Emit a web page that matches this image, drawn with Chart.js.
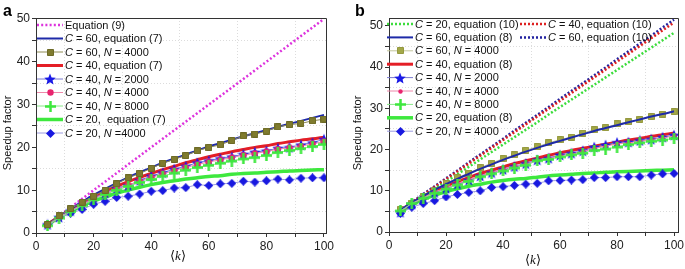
<!DOCTYPE html>
<html><head><meta charset="utf-8">
<script src="https://cdn.jsdelivr.net/npm/chart.js@4.4.1/dist/chart.umd.min.js"></script>
<style>
html,body{margin:0;padding:0;background:#fff;width:685px;height:269px;overflow:hidden;font-family:'Liberation Sans',Arial,sans-serif}
#wa{position:absolute;left:0;top:0;width:340px;height:269px}
#wb{position:absolute;left:340px;top:0;width:345px;height:269px}
.pl{position:absolute;font-weight:bold;font-size:16px;line-height:16px;top:3px;color:#000}
</style></head><body>
<div id="wa"><canvas id="ca" width="340" height="269"></canvas></div>
<div id="wb"><canvas id="cb" width="345" height="269"></canvas></div>
<div class="pl" style="left:3px">a</div>
<div class="pl" style="left:355px">b</div>
<script>
// ---------- data ----------
const K = [4,8,12,16,20,24,28,32,36,40,44,48,52,56,60,64,68,72,76,80,84,88,92,96,100];
const X_TICK_LABELS = ['0','20','40','60','80','100'];
const Y_TICK_LABELS = ['0','10','20','30','40','50'];

// panel a
const labelsA = ['Equation (9)','C = 60, equation (7)','C = 60, N = 4000','C = 40, equation (7)','C = 40, N = 2000','C = 40, N = 4000','C = 40, N = 8000','C = 20,  equation (7)','C = 20, N =4000'];
const eq9A      = [2,4,6,8,10,12,14,16,18,20,22,24,26,28,30,32,34,36,38,40,42,44,46,48,50];
const c60EqA    = [2.0,3.9,5.6,7.3,8.9,10.3,11.7,13.0,14.2,15.3,16.4,17.4,18.3,19.3,20.2,21.0,21.8,22.6,23.3,24.0,24.8,25.5,26.2,26.9,27.6];
const c60N4000A = [2.0,4.0,5.7,7.2,8.6,10.0,11.5,12.9,13.9,15.1,16.3,17.2,18.1,19.2,20.0,20.6,21.6,22.7,23.1,23.8,24.8,25.3,25.6,26.2,26.6];
const c40EqA    = [2.0,3.8,5.4,7.0,8.4,9.7,10.9,12.0,13.0,13.9,14.8,15.6,16.4,17.1,17.8,18.4,19.0,19.5,20.0,20.4,20.9,21.3,21.7,22.0,22.4];
const c40N2000A = [2.0,3.7,5.2,6.7,8.2,9.4,10.5,11.1,12.3,13.3,14.1,14.9,15.6,16.4,16.9,17.4,17.8,18.4,18.9,19.2,19.8,20.0,20.6,21.1,21.9];
const c40N4000A = [2.0,3.7,5.1,6.6,8.0,9.2,10.3,11.2,12.1,13.0,13.8,14.6,15.3,16.0,16.6,17.1,17.6,18.2,18.6,19.0,19.6,19.9,20.3,20.8,21.4];
const c40N8000A = [1.7,3.5,5.0,6.4,7.8,9.0,10.0,10.9,11.8,12.5,13.3,14.0,14.7,15.3,15.8,16.3,16.8,17.3,17.6,18.1,18.8,19.3,19.7,20.2,20.7];
const c20EqA    = [1.9,3.6,5.0,6.3,7.5,8.4,9.3,10.0,10.7,11.3,11.8,12.2,12.6,12.9,13.2,13.4,13.7,13.9,14.0,14.2,14.3,14.5,14.6,14.7,14.8];
const c20N4000A = [2.0,3.6,4.6,5.5,6.7,7.4,8.3,8.6,9.1,9.75,9.9,10.5,10.6,11.3,11.1,11.5,11.6,12.1,11.9,12.2,12.6,12.4,12.8,12.9,12.9];

// panel b
const labelsB = ['C = 20, equation (10)','C = 40, equation (10)','C = 60, equation (8)','C = 60, equation (10)','C = 60, N = 4000','C = 40, equation (8)','C = 40, N = 2000','C = 40, N = 4000','C = 40, N = 8000','C = 20, equation (8)','C = 20, N = 4000'];
const eq10C20B  = [5.0,6.8,8.6,10.4,12.2,14.0,15.8,17.6,19.4,21.2,23.0,24.8,26.6,28.5,30.3,32.1,33.9,35.7,37.5,39.3,41.1,42.9,44.7,46.5,48.3];
const eq10C40B  = [5.2,7.1,9.0,10.9,12.8,14.7,16.6,18.5,20.4,22.3,24.2,26.1,28.0,29.9,31.8,33.7,35.6,37.5,39.4,41.3,43.2,45.1,47.0,48.9,50.8];
const eq10C60B  = [5.3,7.2,9.2,11.1,13.0,14.9,16.9,18.8,20.7,22.6,24.6,26.5,28.4,30.3,32.3,34.2,36.1,38.0,39.9,41.9,43.8,45.7,47.6,49.6,51.5];
const c60EqB    = [5.3,7.1,8.7,10.2,11.6,12.9,14.1,15.3,16.4,17.5,18.5,19.5,20.4,21.3,22.1,22.9,23.7,24.5,25.2,25.9,26.6,27.3,28.0,28.6,29.3];
const c60N4000B = [5.5,7.0,8.6,10.0,11.8,13.2,14.3,15.6,16.7,17.8,18.7,19.8,20.7,21.6,22.4,23.0,24.0,24.8,25.3,26.2,26.7,27.3,28.0,28.6,29.2];
const c40EqB    = [5.2,7.0,8.5,9.9,11.1,12.2,13.2,14.2,15.0,15.8,16.6,17.3,17.9,18.6,19.2,19.8,20.3,20.8,21.3,21.8,22.3,22.7,23.2,23.6,24.0];
const c40N2000B = [4.8,6.8,8.2,9.6,10.6,11.6,12.6,13.6,14.4,15.2,15.9,16.6,17.5,17.9,18.7,19.1,19.7,20.6,21.1,21.7,21.8,22.2,22.5,23.0,23.5];
const c40N4000B = [5.0,6.9,8.3,9.7,10.7,11.7,12.7,13.6,14.4,15.2,15.9,16.5,17.3,17.8,18.5,18.9,19.5,20.3,20.8,21.4,21.6,22.0,22.4,22.8,23.3];
const c40N8000B = [5.1,6.9,8.2,9.4,10.4,11.4,12.3,13.4,14.1,14.8,15.5,16.2,17.3,17.6,18.2,18.7,19.1,19.8,20.1,20.6,21.2,21.6,22.0,22.3,22.7];
const c20EqB    = [5.0,6.6,7.9,8.9,9.8,10.5,11.1,11.6,12.1,12.5,12.8,13.0,13.3,13.6,13.8,14.0,14.2,14.3,14.5,14.6,14.7,14.8,14.9,15.0,15.1];
const c20N4000B = [4.5,6.0,6.9,7.6,8.5,9.1,9.6,10.0,10.8,11.0,11.3,11.6,11.8,12.4,12.5,12.6,12.7,13.2,13.2,13.4,13.4,13.4,13.8,14.1,14.2];

// ---------- helpers ----------
const FONT = "'Liberation Sans', Arial, Helvetica, sans-serif";
Chart.defaults.font.family = FONT;

function markerImg(type, d, fill, stroke, lw) {
  const c = document.createElement('canvas');
  c.width = d; c.height = d;
  const g = c.getContext('2d');
  const r = d / 2;
  g.fillStyle = fill; g.strokeStyle = stroke || fill; g.lineWidth = lw || 1;
  g.beginPath();
  if (type === 'square') { g.rect(0.5, 0.5, d - 1, d - 1); g.fill(); g.stroke(); }
  else if (type === 'circle') { g.arc(r, r, r - 0.3, 0, 2 * Math.PI); g.fill(); }
  else if (type === 'diamond') { g.moveTo(r, 0); g.lineTo(d, r); g.lineTo(r, d); g.lineTo(0, r); g.closePath(); g.fill(); }
  else if (type === 'star') {
    for (let i = 0; i < 10; i++) {
      const a = -Math.PI / 2 + i * Math.PI / 5;
      const rr = (i % 2) ? r * 0.45 : r;
      g.lineTo(r + rr * Math.cos(a), r + rr * Math.sin(a) + r * 0.1);
    }
    g.closePath(); g.fill();
  }
  else if (type === 'plus') { g.moveTo(r, 0); g.lineTo(r, d); g.moveTo(0, r); g.lineTo(d, r); g.stroke(); }
  return c;
}
const pts = arr => K.map((k, i) => ({x: k, y: arr[i]}));

function lineDS(label, arr, color, width, dash, order, tension) {
  return {label, data: pts(arr), borderColor: color, backgroundColor: color, borderWidth: width,
    borderDash: dash || [], pointRadius: 0, pointHoverRadius: 0, fill: false, order,
    cubicInterpolationMode: tension ? 'monotone' : 'default', tension: 0, borderCapStyle: 'butt'};
}
function markDS(label, arr, lineColor, img, order) {
  return {label, data: pts(arr), borderColor: lineColor, backgroundColor: lineColor, borderWidth: 1,
    pointStyle: img, pointRadius: 4, pointHoverRadius: 4, fill: false, order, tension: 0};
}

function richText(ctx, text, x, y, size) {
  const parts = text.split(/(\b[CN](?= ?=))/);
  let cx = x;
  parts.forEach(p => {
    if (!p) return;
    const it = /^[CN]$/.test(p);
    ctx.font = (it ? 'italic ' : '') + size + 'px ' + FONT;
    ctx.fillText(p, cx, y);
    cx += ctx.measureText(p).width;
  });
}

function decorPlugin(cfg) {
  return {
    id: 'decor',
    afterDraw(chart) {
      const ctx = chart.ctx, a = chart.chartArea;
      ctx.save();
      ctx.strokeStyle = '#333'; ctx.lineWidth = 1;
      ctx.beginPath();
      ctx.moveTo(a.left, a.top + 0.5); ctx.lineTo(a.right + 0.5, a.top + 0.5); ctx.lineTo(a.right + 0.5, a.bottom);
      ctx.stroke();
      ctx.fillStyle = '#111';
      ctx.save();
      ctx.translate(cfg.yTitleX, cfg.yTitleY);
      ctx.rotate(-Math.PI / 2);
      ctx.font = '11px ' + FONT; ctx.textAlign = 'center'; ctx.textBaseline = 'middle';
      ctx.fillText('Speedup factor', 0, 0);
      ctx.restore();
      ctx.textBaseline = 'middle'; ctx.textAlign = 'left';
      const f1 = '13px "DejaVu Sans", sans-serif', f2 = 'italic 13px "Liberation Serif", serif';
      ctx.font = f1; const wl = ctx.measureText('\u27E8').width;
      ctx.font = f2; const wk = ctx.measureText('k').width;
      let x0 = cfg.xTitleX - (wl * 2 + wk) / 2;
      ctx.font = f1; ctx.fillText('\u27E8', x0, cfg.xTitleY);
      ctx.font = f2; ctx.fillText('k', x0 + wl, cfg.xTitleY);
      ctx.font = f1; ctx.fillText('\u27E9', x0 + wl + wk, cfg.xTitleY);
      cfg.legend.forEach(e => {
        const ds = chart.data.datasets[e.i];
        const lx = cfg.legX[e.col], y = cfg.legY0 + e.row * cfg.legDy;
        ctx.save();
        ctx.strokeStyle = ds.borderColor; ctx.lineWidth = ds.borderWidth;
        ctx.setLineDash(ds.borderDash || []); ctx.lineCap = 'butt';
        ctx.beginPath(); ctx.moveTo(lx, y); ctx.lineTo(lx + cfg.legLen, y); ctx.stroke();
        ctx.restore();
        if (ds.pointStyle && typeof ds.pointStyle === 'object') {
          const im = ds.pointStyle;
          ctx.drawImage(im, Math.round(lx + cfg.legLen / 2 - im.width / 2), Math.round(y - im.height / 2));
        }
        ctx.fillStyle = '#111'; ctx.textBaseline = 'middle'; ctx.textAlign = 'left';
        richText(ctx, ds.label, lx + cfg.legLen + 2, y + 0.5, 11);
      });
      ctx.restore();
    }
  };
}

function options(cfg) {
  return {
    responsive: false, animation: false, devicePixelRatio: 1,
    layout: {padding: {top: cfg.top, right: cfg.right, left: 0, bottom: 0}},
    plugins: {legend: {display: false}, tooltip: {enabled: false}},
    events: [],
    scales: {
      x: {
        type: 'linear', min: 0, max: cfg.xmax,
        ticks: {stepSize: 10, includeBounds: false, autoSkip: false, maxRotation: 0, padding: 2, color: '#222',
          font: {family: FONT, size: 12},
          callback: v => (v % 20 === 0 && X_TICK_LABELS.includes(String(v))) ? String(v) : ''},
        grid: {color: c => (c.tick && c.tick.value % 20 === 10) ? '#dcdcdc' : 'rgba(0,0,0,0)', tickColor: '#333', tickLength: 4, lineWidth: 1},
        border: {display: true, color: '#333', width: 1, dash: [1, 2]},
        afterFit: s => { s.height = cfg.xh; s.paddingLeft = 0; s.paddingRight = 0; }
      },
      y: {
        type: 'linear', min: 0, max: cfg.ymax,
        ticks: {stepSize: 5, includeBounds: false, autoSkip: false, padding: 2, color: '#222',
          font: {family: FONT, size: 12},
          callback: v => (v % 10 === 0 && Y_TICK_LABELS.includes(String(v))) ? String(v) : ''},
        grid: {color: c => (c.tick && c.tick.value % 10 === 5) ? '#dcdcdc' : 'rgba(0,0,0,0)', tickColor: '#333', tickLength: 4, lineWidth: 1},
        border: {display: true, color: '#333', width: 1, dash: [1, 2]},
        afterFit: s => { s.width = cfg.yw; s.paddingTop = 0; s.paddingBottom = 0; }
      }
    }
  };
}

// ---------- panel a ----------
const mkA = {
  sq: markerImg('square', 7, '#7f7b2e', '#6d6a26', 1),
  star: markerImg('star', 12, '#1a1ae6'),
  circ: markerImg('circle', 7, '#e8246e'),
  plus: markerImg('plus', 11, '#3ee83e', '#3ee83e', 2.5),
  dia: markerImg('diamond', 9, '#1818e0')
};
const dsA = [
  lineDS(labelsA[0], eq9A, '#dd33dd', 2.5, [2, 2.2], 6, false),
  lineDS(labelsA[1], c60EqA, '#1e2aa8', 2, [], 5, true),
  markDS(labelsA[2], c60N4000A, '#8e8b55', mkA.sq, 1),
  lineDS(labelsA[3], c40EqA, '#e41e26', 3, [], 5, true),
  markDS(labelsA[4], c40N2000A, '#7a7ad0', mkA.star, 3),
  markDS(labelsA[5], c40N4000A, '#ee88aa', mkA.circ, 2),
  markDS(labelsA[6], c40N8000A, '#88e888', mkA.plus, 1),
  lineDS(labelsA[7], c20EqA, '#3ee83e', 3.5, [], 5, true),
  markDS(labelsA[8], c20N4000A, '#9a9ae0', mkA.dia, 1)
];
const cfgA = {top: 18, right: 14, xh: 36, yw: 36, xmax: 100.7, ymax: 50.23,
  yTitleX: 8, yTitleY: 133, xTitleX: 178, xTitleY: 257,
  legX: [37], legLen: 26, legY0: 25, legDy: 13.5,
  legend: labelsA.map((l, i) => ({i, col: 0, row: i}))};
new Chart(document.getElementById('ca'), {type: 'line', data: {datasets: dsA}, options: options(cfgA), plugins: [decorPlugin(cfgA)]});

// ---------- panel b ----------
const mkB = {
  sq: markerImg('square', 7, '#a3a848', '#95993f', 1),
  star: markerImg('star', 12, '#1a1ae6'),
  circ: markerImg('circle', 5, '#e8246e'),
  plus: markerImg('plus', 11, '#3ee83e', '#3ee83e', 2.5),
  dia: markerImg('diamond', 9, '#1818e0')
};
const dsB = [
  lineDS(labelsB[0], eq10C20B, '#3cdc3c', 2.5, [2, 2], 6, false),
  lineDS(labelsB[1], eq10C40B, '#dd2020', 2.5, [2, 2], 6, false),
  lineDS(labelsB[2], c60EqB, '#1e2aa8', 2, [], 4, true),
  lineDS(labelsB[3], eq10C60B, '#2222a0', 2.5, [2, 2], 6, false),
  markDS(labelsB[4], c60N4000B, '#c4c79a', mkB.sq, 5),
  lineDS(labelsB[5], c40EqB, '#e41e26', 3, [], 5, true),
  markDS(labelsB[6], c40N2000B, '#7a7ad0', mkB.star, 3),
  markDS(labelsB[7], c40N4000B, '#ee88aa', mkB.circ, 2),
  markDS(labelsB[8], c40N8000B, '#88e888', mkB.plus, 1),
  lineDS(labelsB[9], c20EqB, '#3ee83e', 3.5, [], 5, true),
  markDS(labelsB[10], c20N4000B, '#9a9ae0', mkB.dia, 1)
];
const cfgB = {top: 18, right: 7, xh: 37, yw: 49, xmax: 101.4, ymax: 51.9,
  yTitleX: 18, yTitleY: 133, xTitleX: 193, xTitleY: 261,
  legX: [47, 180], legLen: 26, legY0: 24, legDy: 13.4,
  legend: [
    {i: 0, col: 0, row: 0}, {i: 1, col: 1, row: 0},
    {i: 2, col: 0, row: 1}, {i: 3, col: 1, row: 1},
    {i: 4, col: 0, row: 2}, {i: 5, col: 0, row: 3}, {i: 6, col: 0, row: 4},
    {i: 7, col: 0, row: 5}, {i: 8, col: 0, row: 6}, {i: 9, col: 0, row: 7}, {i: 10, col: 0, row: 8}
  ]};
new Chart(document.getElementById('cb'), {type: 'line', data: {datasets: dsB}, options: options(cfgB), plugins: [decorPlugin(cfgB)]});
</script>
</body></html>
